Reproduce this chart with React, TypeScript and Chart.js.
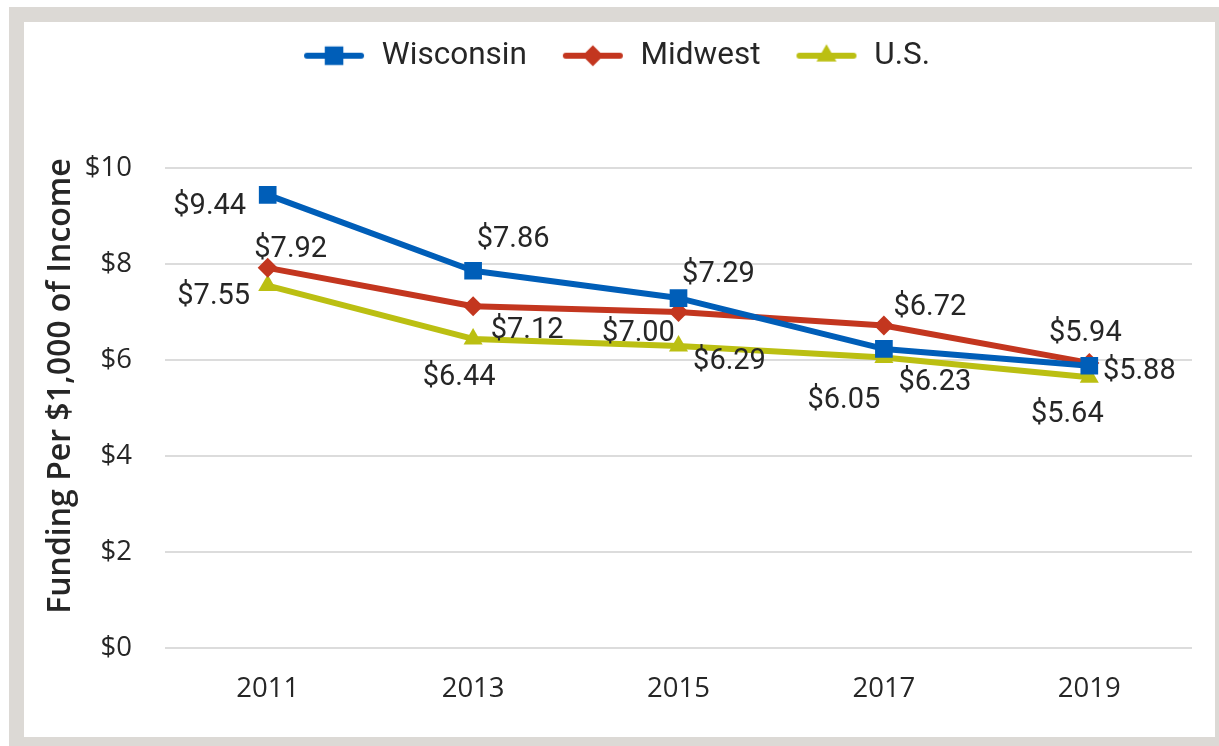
import React, { useEffect, useRef } from "react";
import { Chart, registerables } from "chart.js";

Chart.register(...registerables);

const years = ["2011", "2013", "2015", "2017", "2019"];
const seriesNames = ["Wisconsin", "Midwest", "U.S."];
const wisconsin = [9.44, 7.86, 7.29, 6.23, 5.88];
const midwest = [7.92, 7.12, 7.0, 6.72, 5.94];
const us = [7.55, 6.44, 6.29, 6.05, 5.64];
const yTickValues = [0, 2, 4, 6, 8, 10];
const yTitle = "Funding Per $1,000 of Income";

// label placement offsets (dx, dy in px from the point to the text centre)
const wisconsinLabelOffsets = [[-58, 8], [40, -35], [40, -27], [51, 30], [50, 2]];
const midwestLabelOffsets = [[23, -22], [54, 21], [-40, 18], [46, -22], [-4, -33]];
const usLabelOffsets = [[-54, 7], [-14, 35], [51, 12], [-40, 39], [-22, 33]];

const COLORS = ["#005eb8", "#c3361f", "#bbbf12"];
const STYLES = ["rect", "rectRot", "triangle"];
const RADII = [12.5, 10, 11];
const TEXT = "#262626";

function drawMarker(ctx: CanvasRenderingContext2D, style: string, x: number, y: number, r: number) {
  ctx.beginPath();
  if (style === "rect") {
    const s = Math.SQRT1_2 * r;
    ctx.rect(x - s, y - s, 2 * s, 2 * s);
  } else if (style === "rectRot") {
    ctx.moveTo(x - r, y);
    ctx.lineTo(x, y - r);
    ctx.lineTo(x + r, y);
    ctx.lineTo(x, y + r);
    ctx.closePath();
  } else {
    const a = (r * 3) / Math.sqrt(3);
    const h = (a * Math.sqrt(3)) / 2;
    ctx.moveTo(x, y - (2 * h) / 3);
    ctx.lineTo(x + a / 2, y + h / 3);
    ctx.lineTo(x - a / 2, y + h / 3);
    ctx.closePath();
  }
  ctx.fill();
}

function legendSymbol(color: string, style: string, r: number): HTMLCanvasElement {
  const c = document.createElement("canvas");
  c.width = 80;
  c.height = 28;
  const ctx = c.getContext("2d")!;
  ctx.strokeStyle = color;
  ctx.fillStyle = color;
  ctx.lineWidth = 6;
  ctx.lineCap = "round";
  ctx.beginPath();
  ctx.moveTo(21, 14);
  ctx.lineTo(75, 14);
  ctx.stroke();
  drawMarker(ctx, style, 48, 14, r * 1.05);
  return c;
}

const allOffsets = [wisconsinLabelOffsets, midwestLabelOffsets, usLabelOffsets];

const dataLabelsPlugin = {
  id: "customDataLabels",
  afterDatasetsDraw(chart: any) {
    const ctx = chart.ctx as CanvasRenderingContext2D;
    ctx.save();
    ctx.font = "29px Roboto";
    ctx.fillStyle = TEXT;
    ctx.textAlign = "center";
    ctx.textBaseline = "middle";
    chart.data.datasets.forEach((ds: any, di: number) => {
      const meta = chart.getDatasetMeta(di);
      meta.data.forEach((pt: any, i: number) => {
        const v = ds.data[i] as number;
        const [dx, dy] = allOffsets[di][i];
        ctx.fillText("$" + v.toFixed(2), pt.x + dx, pt.y + dy + 4);
      });
    });
    ctx.restore();
  },
};

const yTitlePlugin = {
  id: "yTitle",
  afterDraw(chart: any) {
    const ctx = chart.ctx as CanvasRenderingContext2D;
    const area = chart.chartArea;
    ctx.save();
    ctx.font = "600 32px 'Open Sans'";
    ctx.fillStyle = TEXT;
    ctx.textAlign = "center";
    ctx.textBaseline = "middle";
    ctx.translate(37, (area.top + area.bottom) / 2 - 22);
    ctx.rotate(-Math.PI / 2);
    ctx.fillText(yTitle, 0, 0);
    ctx.restore();
  },
};

const legendHeightPlugin = {
  id: "legendHeight",
  beforeInit(chart: any) {
    const lg = chart.legend;
    if (!lg) return;
    const orig = lg.fit;
    lg.fit = function () {
      orig.call(this);
      this.height = 146;
    };
  },
};

export default function App() {
  const ref = useRef<HTMLCanvasElement | null>(null);
  useEffect(() => {
    if (!ref.current) return;
    const symbols = COLORS.map((c, i) => legendSymbol(c, STYLES[i], RADII[i]));
    const series = [wisconsin, midwest, us];
    const chart = new Chart(ref.current, {
      type: "line",
      data: {
        labels: years,
        datasets: series.map((d, i) => ({
          label: seriesNames[i],
          data: d,
          borderColor: COLORS[i],
          backgroundColor: COLORS[i],
          borderWidth: 6,
          pointStyle: STYLES[i] as any,
          pointRadius: RADII[i],
          pointBorderWidth: 0,
          pointBackgroundColor: COLORS[i],
          borderJoinStyle: "round" as any,
          tension: 0,
        })),
      },
      options: {
        animation: false,
        responsive: false,
        maintainAspectRatio: false,
        layout: { padding: { left: 0, right: 23, top: 0, bottom: 0 } },
        plugins: {
          legend: {
            position: "top",
            labels: {
              usePointStyle: true,
              pointStyleWidth: 80,
              boxHeight: 28,
              padding: 18,
              color: TEXT,
              font: { family: "Roboto", size: 31.5 },
              generateLabels: (c: any) => {
                const items = (Chart.defaults.plugins.legend.labels as any).generateLabels(c);
                items.forEach((it: any, i: number) => {
                  it.pointStyle = symbols[i];
                  it.fontColor = TEXT;
                });
                return items;
              },
            },
          },
          tooltip: { enabled: false },
        },
        scales: {
          x: {
            offset: true,
            grid: { display: false },
            border: { display: false },
            ticks: {
              color: TEXT,
              font: { family: "'Open Sans'", size: 27.5 },
              padding: 17,
            },
            afterFit: (s: any) => {
              s.height = 89;
            },
          },
          y: {
            min: 0,
            max: 10,
            grid: { color: "#dcdcdc", lineWidth: 2, drawTicks: false },
            border: { display: false },
            afterBuildTicks: (s: any) => {
              s.ticks = yTickValues.map((v) => ({ value: v }));
            },
            ticks: {
              color: TEXT,
              font: { family: "'Open Sans'", size: 27.5 },
              padding: 33,
              callback: (v: any) => "$" + v,
            },
            afterFit: (s: any) => {
              s.width = 141;
            },
          },
        },
      },
      plugins: [dataLabelsPlugin, yTitlePlugin, legendHeightPlugin],
    });
    return () => chart.destroy();
  }, []);

  return (
    <div style={{ position: "fixed", left: 0, top: 0, width: 1219, height: 746, background: "#ffffff" }}>
      <div style={{ position: "absolute", left: 9, top: 7, width: 1210, height: 739, background: "#dcd9d5" }} />
      <div style={{ position: "absolute", left: 24, top: 22, width: 1191, height: 715, background: "#ffffff" }}>
        <canvas ref={ref} width={1191} height={715} style={{ display: "block", width: 1191, height: 715 }} />
      </div>
    </div>
  );
}
